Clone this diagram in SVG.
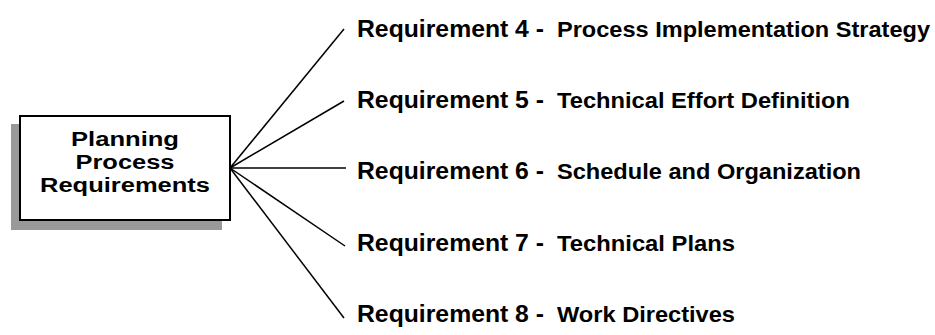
<svg xmlns="http://www.w3.org/2000/svg" width="935" height="335" viewBox="0 0 935 335">
<style>
.big{font-family:"Liberation Sans",Arial,sans-serif;font-weight:bold;font-size:24px;fill:#000}
.small{font-family:"Liberation Sans",Arial,sans-serif;font-weight:bold;font-size:22px;fill:#000}
.box{font-family:"Liberation Sans",Arial,sans-serif;font-weight:bold;font-size:20px;fill:#000;text-anchor:middle}
.conn{stroke:#000;stroke-width:1.5;fill:none}
</style>
<rect width="935" height="335" fill="#fff"/>
<g id="planning">
<rect x="11" y="124" width="211" height="106" fill="#999"/>
<rect x="20" y="116" width="210" height="104" fill="#fff" stroke="#000" stroke-width="2"/>
<text class="box" x="125" y="146" textLength="108" lengthAdjust="spacingAndGlyphs">Planning</text>
<text class="box" x="125" y="169" textLength="99" lengthAdjust="spacingAndGlyphs">Process</text>
<text class="box" x="125" y="192" textLength="170" lengthAdjust="spacingAndGlyphs">Requirements</text>
</g>
<g id="connectors">
<line class="conn" x1="230" y1="168" x2="344" y2="29"/>
<line class="conn" x1="230" y1="168" x2="344" y2="101"/>
<line class="conn" x1="230" y1="168" x2="346" y2="168"/>
<line class="conn" x1="230" y1="168" x2="345" y2="246"/>
<line class="conn" x1="230" y1="168" x2="344" y2="318"/>
</g>
<g id="req4">
<text class="big" x="357" y="37" textLength="187" lengthAdjust="spacingAndGlyphs">Requirement 4 -</text>
<text class="small" x="557" y="37" textLength="373" lengthAdjust="spacingAndGlyphs">Process Implementation Strategy</text>
</g>
<g id="req5">
<text class="big" x="357" y="108" textLength="187" lengthAdjust="spacingAndGlyphs">Requirement 5 -</text>
<text class="small" x="557" y="108" textLength="293" lengthAdjust="spacingAndGlyphs">Technical Effort Definition</text>
</g>
<g id="req6">
<text class="big" x="357" y="179" textLength="187" lengthAdjust="spacingAndGlyphs">Requirement 6 -</text>
<text class="small" x="557" y="179" textLength="304" lengthAdjust="spacingAndGlyphs">Schedule and Organization</text>
</g>
<g id="req7">
<text class="big" x="357" y="251" textLength="187" lengthAdjust="spacingAndGlyphs">Requirement 7 -</text>
<text class="small" x="557" y="251" textLength="178" lengthAdjust="spacingAndGlyphs">Technical Plans</text>
</g>
<g id="req8">
<text class="big" x="357" y="322" textLength="187" lengthAdjust="spacingAndGlyphs">Requirement 8 -</text>
<text class="small" x="557" y="322" textLength="178" lengthAdjust="spacingAndGlyphs">Work Directives</text>
</g>
</svg>
